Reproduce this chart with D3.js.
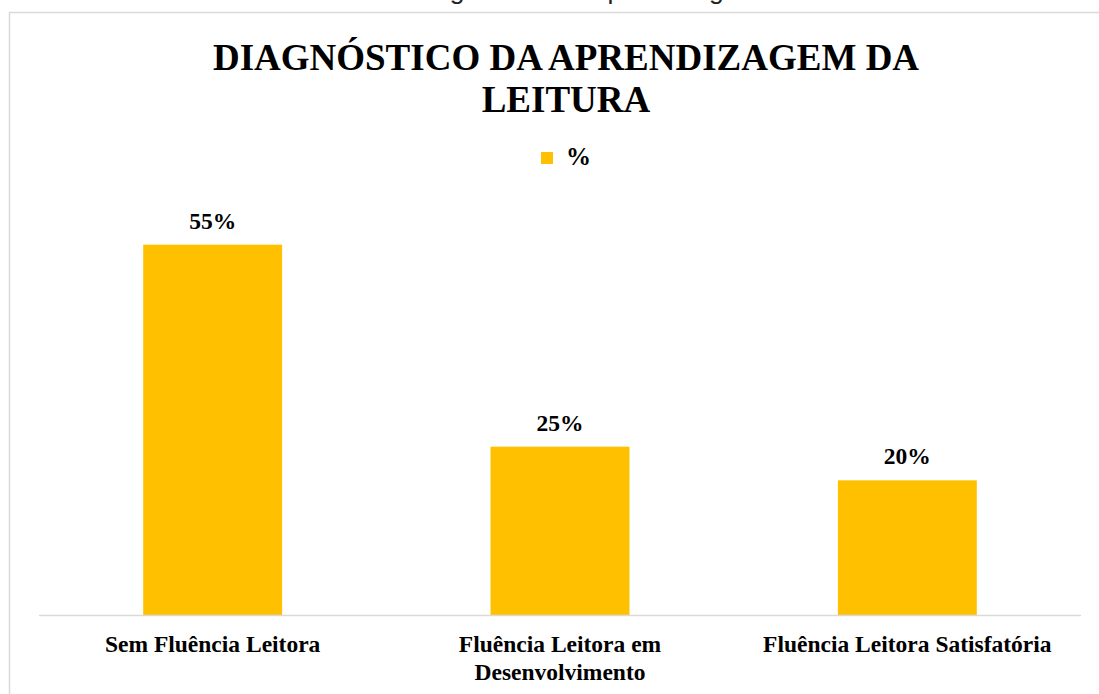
<!doctype html>
<html>
<head>
<meta charset="UTF-8">
<title>Diagnóstico da aprendizagem da leitura</title>
<script src="https://d3js.org/d3.v7.min.js"></script>
<style>
  body { margin: 0; background: #ffffff; }
  svg { display: block; }
</style>
</head>
<body>
<script>
// chart data
var categories = ["Sem Fluência Leitora", "Fluência Leitora em Desenvolvimento", "Fluência Leitora Satisfatória"];
var categoryLines = [["Sem Fluência Leitora"], ["Fluência Leitora em", "Desenvolvimento"], ["Fluência Leitora Satisfatória"]];
var values = [55, 25, 20];
var seriesName = "%";
var titleLines = ["DIAGNÓSTICO DA APRENDIZAGEM DA", "LEITURA"];
var captionText = "Gráfico 1 – Diagnóstico da aprendizagem da leitura";

var W = 1099, H = 694;
var plot = {left: 39, right: 1081, top: 211, bottom: 615};
var serif = "'Liberation Serif', 'Times New Roman', serif";

var svg = d3.select("body").append("svg")
  .attr("width", W)
  .attr("height", H);

// caption, cut off at the top of the picture like in the source
svg.append("text")
  .attr("x", 273)
  .attr("y", -1.5)
  .style("font-family", "'Liberation Sans', Arial, sans-serif")
  .style("font-size", "26.5px")
  .style("fill", "#222")
  .text(captionText);

// chart frame
svg.append("rect")
  .attr("x", 9.5)
  .attr("y", 12.5)
  .attr("width", W + 20)
  .attr("height", H + 20)
  .attr("fill", "none")
  .attr("stroke", "#d9d9d9")
  .attr("stroke-width", 1.5);

// scales
var x = d3.scaleBand()
  .domain(categories)
  .range([plot.left, plot.right])
  .paddingInner(0.6)
  .paddingOuter(0.3);

var y = d3.scaleLinear()
  .domain([0, 60])
  .range([plot.bottom, plot.top]);

// title
svg.append("text")
  .attr("text-anchor", "middle")
  .style("font-family", serif)
  .style("font-weight", "bold")
  .style("font-size", "37px")
  .selectAll("tspan")
  .data(titleLines)
  .enter().append("tspan")
    .attr("x", 566)
    .attr("y", function(d, i) { return 70 + i * 42; })
    .text(function(d) { return d; });

// legend
var legend = svg.append("g").attr("transform", "translate(541,152)");
legend.append("rect")
  .attr("width", 12)
  .attr("height", 12)
  .attr("fill", "#ffc000");
legend.append("text")
  .attr("x", 25)
  .attr("y", 13)
  .style("font-family", serif)
  .style("font-weight", "bold")
  .style("font-size", "25px")
  .text(seriesName);

// bars
svg.selectAll(".bar")
  .data(values)
  .enter().append("rect")
    .attr("class", "bar")
    .attr("x", function(d, i) { return x(categories[i]); })
    .attr("y", function(d) { return y(d); })
    .attr("width", x.bandwidth())
    .attr("height", function(d) { return y(0) - y(d); })
    .attr("fill", "#ffc000");

// value labels
svg.selectAll(".val")
  .data(values)
  .enter().append("text")
    .attr("class", "val")
    .attr("x", function(d, i) { return x(categories[i]) + x.bandwidth() / 2; })
    .attr("y", function(d) { return y(d) - 16; })
    .attr("text-anchor", "middle")
    .style("font-family", serif)
    .style("font-weight", "bold")
    .style("font-size", "23.5px")
    .text(function(d) { return d + "%"; });

// x axis line
svg.append("line")
  .attr("x1", plot.left)
  .attr("x2", plot.right)
  .attr("y1", plot.bottom + 0.5)
  .attr("y2", plot.bottom + 0.5)
  .attr("stroke", "#d9d9d9")
  .attr("stroke-width", 1.5);

// category labels
var cat = svg.selectAll(".cat")
  .data(categories)
  .enter().append("text")
    .attr("class", "cat")
    .attr("text-anchor", "middle")
    .style("font-family", serif)
    .style("font-weight", "bold")
    .style("font-size", "23.5px");

cat.selectAll("tspan")
  .data(function(d, i) { return categoryLines[i].map(function(t) { return {t: t, c: d}; }); })
  .enter().append("tspan")
    .attr("x", function(d) { return x(d.c) + x.bandwidth() / 2; })
    .attr("y", function(d, j) { return 652 + j * 28; })
    .text(function(d) { return d.t; });
</script>
</body>
</html>
